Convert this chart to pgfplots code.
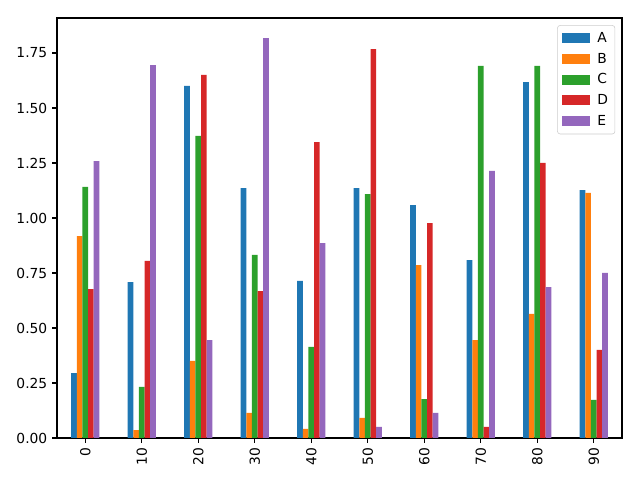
\documentclass[border=0pt]{standalone}
\usepackage{pgfplots}
\pgfplotsset{compat=1.18}
\usepackage{fontspec}
\setmainfont{DejaVu Sans}
\definecolor{tA}{HTML}{1F77B4}
\definecolor{tB}{HTML}{FF7F0E}
\definecolor{tC}{HTML}{2CA02C}
\definecolor{tD}{HTML}{D62728}
\definecolor{tE}{HTML}{9467BD}
\begin{document}
\begin{tikzpicture}
\begin{axis}[
  at={(0,0)}, anchor=south west,
  scale only axis, width=5.65in, height=4.2in,
  xmin=-0.5, xmax=9.5, ymin=0, ymax=1.909,
  ybar, bar width=0.1,
  xtick={0,1,2,3,4,5,6,7,8,9},
  xticklabels={0,10,20,30,40,50,60,70,80,90},
  x tick label style={rotate=90, anchor=east},
  ytick={0,0.25,0.5,0.75,1,1.25,1.5,1.75},
  yticklabel style={/pgf/number format/fixed, /pgf/number format/fixed zerofill, /pgf/number format/precision=2},
  /pgf/number format/assume math mode=true,
  tick align=outside, xtick pos=bottom, ytick pos=left,
  major tick length=3.5pt,
  tick style={black, line width=0.8pt},
  axis line style={line width=0.8pt},
  font=\fontsize{10pt}{12pt}\selectfont,
  legend style={at={(0.988,0.983)}, anchor=north east, draw=black!20, rounded corners=2pt, font=\fontsize{10pt}{12pt}\selectfont, row sep=2.1pt, inner sep=3pt},
  legend cell align=left,
  legend image code/.code={\fill[#1, sharp corners] (0in,-0.05in) rectangle (0.28in,0.05in); \path (0.33in,0);},
]
\addplot[fill=tA, draw=none, bar shift=-0.2] coordinates {(0,0.295) (1,0.709) (2,1.600) (3,1.136) (4,0.714) (5,1.136) (6,1.059) (7,0.809) (8,1.618) (9,1.127)};
\addplot[fill=tB, draw=none, bar shift=-0.1] coordinates {(0,0.918) (1,0.036) (2,0.350) (3,0.114) (4,0.041) (5,0.091) (6,0.786) (7,0.445) (8,0.564) (9,1.114)};
\addplot[fill=tC, draw=none, bar shift=0] coordinates {(0,1.141) (1,0.232) (2,1.373) (3,0.832) (4,0.414) (5,1.109) (6,0.177) (7,1.691) (8,1.691) (9,0.173)};
\addplot[fill=tD, draw=none, bar shift=0.1] coordinates {(0,0.677) (1,0.805) (2,1.650) (3,0.668) (4,1.345) (5,1.768) (6,0.977) (7,0.050) (8,1.250) (9,0.400)};
\addplot[fill=tE, draw=none, bar shift=0.2] coordinates {(0,1.259) (1,1.695) (2,0.445) (3,1.818) (4,0.886) (5,0.050) (6,0.114) (7,1.214) (8,0.686) (9,0.750)};
\legend{A,B,C,D,E}
\end{axis}
\pgfresetboundingbox
\path (-0.57in,-0.42in) rectangle (5.83in,4.38in);
\end{tikzpicture}
\end{document}
